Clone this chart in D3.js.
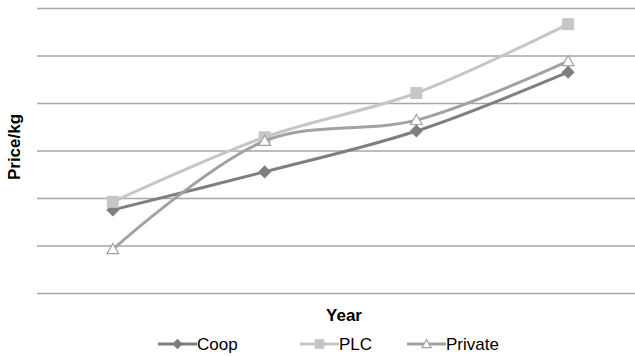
<!DOCTYPE html>
<html>
<head>
<meta charset="utf-8">
<script src="https://cdn.jsdelivr.net/npm/d3@7"></script>
<style>
  html, body { margin: 0; padding: 0; background: #fff; }
  svg { display: block; font-family: "Liberation Sans", Arial, sans-serif; }
</style>
</head>
<body>
<svg id="chart" width="635" height="356"></svg>
<script>
// Price per kg by ownership type over four years
const years = ["Y1", "Y2", "Y3", "Y4"];
const coop = [1.75, 2.55, 3.41, 4.65];
const plc = [1.92, 3.28, 4.21, 5.66];
const priv = [0.92, 3.2, 3.64, 4.88];
const yTicks = [0, 1, 2, 3, 4, 5, 6];

const series = [
  { name: "Coop", values: coop, color: "#7f7f7f", marker: "diamond" },
  { name: "PLC", values: plc, color: "#c6c6c6", marker: "square" },
  { name: "Private", values: priv, color: "#a2a2a2", marker: "triangle" }
];

const svg = d3.select("#chart");
const plotLeft = 37, plotRight = 644, plotTop = 8, plotBottom = 293;

const x = d3.scaleBand().domain(years).range([plotLeft, plotRight]);
const y = d3.scaleLinear().domain([0, 6]).range([plotBottom, plotTop]);
const cx = d => x(d) + x.bandwidth() / 2;

// horizontal gridlines
const yAxis = d3.axisLeft(y).tickValues(yTicks).tickSize(-(plotRight - plotLeft)).tickFormat("");
const gy = svg.append("g").attr("transform", `translate(${plotLeft},0)`).call(yAxis);
gy.select(".domain").remove();
gy.selectAll(".tick line").attr("stroke", "#a6a6a6").attr("stroke-width", 1.5);

const line = d3.line()
  .x((d, i) => cx(years[i]))
  .y(d => y(d))
  .curve(d3.curveCatmullRom.alpha(0.5));

function drawMarker(g, type, color, px, py, s) {
  if (type === "diamond") {
    g.append("path").attr("d", d3.symbol(d3.symbolDiamond2, s * s * 0.9)())
      .attr("transform", `translate(${px},${py})`).attr("fill", color);
  } else if (type === "square") {
    g.append("rect").attr("x", px - s / 2).attr("y", py - s / 2)
      .attr("width", s).attr("height", s).attr("fill", color);
  } else {
    g.append("path").attr("d", d3.symbol(d3.symbolTriangle2, s * s * 0.5)())
      .attr("transform", `translate(${px},${py + 1})`)
      .attr("fill", "#fff").attr("stroke", color).attr("stroke-width", 1.2);
  }
}

const sizes = { diamond: 11, square: 12, triangle: 14 };

series.forEach(s => {
  const g = svg.append("g");
  g.append("path").datum(s.values).attr("d", line)
    .attr("fill", "none").attr("stroke", s.color).attr("stroke-width", 3);
  s.values.forEach((v, i) => drawMarker(g, s.marker, s.color, cx(years[i]), y(v), sizes[s.marker]));
});

// axis titles
svg.append("text").attr("x", 344).attr("y", 321).attr("text-anchor", "middle")
  .attr("font-size", 17).attr("font-weight", "bold").attr("fill", "#000").text("Year");
svg.append("text").attr("transform", "translate(20,147) rotate(-90)").attr("text-anchor", "middle")
  .attr("font-size", 17).attr("font-weight", "bold").attr("fill", "#000").text("Price/kg");

// legend
const legendX = [158, 300, 407];
series.forEach((s, i) => {
  const g = svg.append("g").attr("transform", `translate(${legendX[i]},344)`);
  g.append("line").attr("x1", 0).attr("x2", 39).attr("y1", 0).attr("y2", 0)
    .attr("stroke", s.color).attr("stroke-width", 3);
  drawMarker(g, s.marker, s.color, 19.5, 0, sizes[s.marker] * 0.8);
  g.append("text").attr("x", 39).attr("y", 6).attr("font-size", 17)
    .attr("fill", "#000").text(s.name);
});
</script>
</body>
</html>
